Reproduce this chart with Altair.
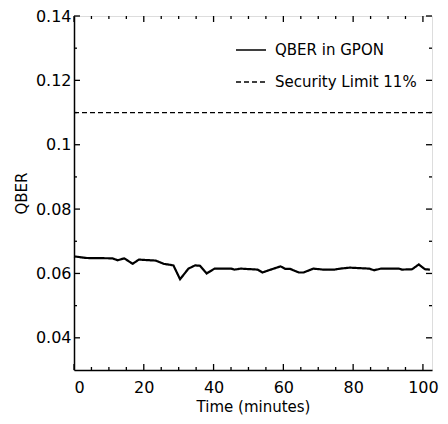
import altair as alt
import pandas as pd

# QBER trace
time_min = [0, 3.6, 11, 12.5, 14.4, 16.8, 18.6, 23.4, 25.7, 28.5, 30.4, 32.8, 34.7,
            36.1, 38.0, 40.3, 45, 46, 47.8, 52.6, 54, 56.4, 59.2, 60.6, 62, 64.4,
            65.8, 68.6, 71.4, 74.7, 76.2, 79, 84.6, 86, 88, 93.1, 94, 96.9, 98.8,
            100.6, 102]
qber = [0.0653, 0.0648, 0.0647, 0.0641, 0.0647, 0.0630, 0.0643, 0.0640, 0.0630,
        0.0625, 0.0582, 0.0615, 0.0625, 0.0624, 0.0600, 0.0615, 0.0615, 0.0612,
        0.0615, 0.0612, 0.0603, 0.0612, 0.0622, 0.0614, 0.0614, 0.0603, 0.0603,
        0.0615, 0.0612, 0.0612, 0.0615, 0.0618, 0.0615, 0.0610, 0.0615, 0.0615,
        0.0612, 0.0613, 0.0628, 0.0613, 0.0612]

limit_x = [0, 102.6]
limit_y = [0.11, 0.11]

series_names = ["QBER in GPON", "Security Limit 11%"]

x_major = [0, 20, 40, 60, 80, 100]
x_minor = [5, 10, 15, 25, 30, 35, 45, 50, 55, 65, 70, 75, 85, 90, 95]
y_major = [0.04, 0.06, 0.08, 0.10, 0.12, 0.14]
y_minor = [0.05, 0.07, 0.09, 0.11, 0.13]

W, H = 358, 354
FONT = "DejaVu Sans"

df_q = pd.DataFrame({"t": time_min, "q": qber, "s": series_names[0]})
df_l = pd.DataFrame({"t": limit_x, "q": limit_y, "s": series_names[1]})

xs = alt.Scale(domain=[0, 102.6], nice=False, zero=False)
ys = alt.Scale(domain=[0.03, 0.14], nice=False, zero=False)

dash = alt.StrokeDash(
    "s:N",
    scale=alt.Scale(domain=series_names, range=[[1, 0], [5, 3]]),
    legend=alt.Legend(
        title=None, orient="none", legendX=161, legendY=18,
        symbolType="stroke", symbolSize=900, symbolStrokeWidth=1.3,
        symbolStrokeColor="black", labelFont=FONT, labelFontSize=15,
        labelColor="black", labelOffset=8, rowPadding=8, padding=0,
    ),
)

x_enc = alt.X(
    "t:Q", scale=xs,
    axis=alt.Axis(
        title="Time (minutes)", values=x_major, tickSize=0, grid=False,
        labelFont=FONT, labelFontSize=16, labelColor="black", labelPadding=9,
        titleFont=FONT, titleFontSize=15, titleFontWeight="normal",
        titleColor="black", titleY=36, titleBaseline="middle",
        domainColor="black", domainWidth=1.5,
    ),
)
y_enc = alt.Y(
    "q:Q", scale=ys,
    axis=alt.Axis(
        title="QBER", values=y_major, tickSize=0, grid=False,
        labelFont=FONT, labelFontSize=16, labelColor="black", labelPadding=3,
        labelExpr="datum.value == 0.1 ? '0.1' : datum.label",
        titleFont=FONT, titleFontSize=15, titleFontWeight="normal",
        titleColor="black", titleX=-53, titleY=H / 2, titleBaseline="middle",
        domainColor="black", domainWidth=1.5,
    ),
)

line_q = alt.Chart(df_q).mark_line(color="black", strokeWidth=2.2).encode(
    x=x_enc, y=y_enc, strokeDash=dash
)
line_l = alt.Chart(df_l).mark_line(color="black", strokeWidth=1.3).encode(
    x=alt.X("t:Q", scale=xs), y=alt.Y("q:Q", scale=ys), strokeDash=dash
)

def yticks(vals, length):
    d = pd.DataFrame({"v": vals})
    left = alt.Chart(d).mark_rule(color="black", strokeWidth=1.3).encode(
        y=alt.Y("v:Q", scale=ys), x=alt.value(0), x2=alt.value(length))
    right = alt.Chart(d).mark_rule(color="black", strokeWidth=1.3).encode(
        y=alt.Y("v:Q", scale=ys), x=alt.value(W), x2=alt.value(W - length))
    return [left, right]

def xticks(vals, length):
    d = pd.DataFrame({"v": vals})
    bottom = alt.Chart(d).mark_rule(color="black", strokeWidth=1.3).encode(
        x=alt.X("v:Q", scale=xs), y=alt.value(H), y2=alt.value(H - length))
    top = alt.Chart(d).mark_rule(color="black", strokeWidth=1.3).encode(
        x=alt.X("v:Q", scale=xs), y=alt.value(0), y2=alt.value(length))
    return [bottom, top]

layers = [line_l, line_q] + yticks(y_major, 6) + yticks(y_minor, 3) \
    + xticks(x_major, 6) + xticks(x_minor, 3)

chart = alt.layer(*layers).properties(
    width=W, height=H,
    autosize=alt.AutoSizeParams(type="none"),
    padding={"left": 66, "top": 8, "right": 8, "bottom": 46},
).configure_view(stroke="black", strokeWidth=1.5).configure(background="white")

chart.save("out.html", embed_options={"renderer": "svg", "actions": False})
